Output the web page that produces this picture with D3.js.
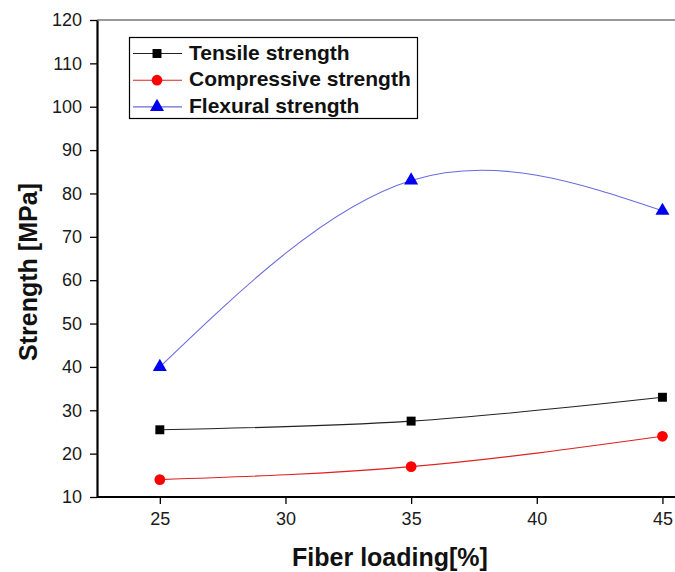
<!DOCTYPE html>
<html><head><meta charset="utf-8">
<script src="https://cdn.jsdelivr.net/npm/d3@7"></script>
<style>body{margin:0;background:#fff}svg{display:block}</style>
</head><body>
<svg id="c" width="675" height="572"></svg>
<script>
const fiberLoading = [25, 35, 45];
const tensile = [25.5, 27.5, 33.0];
const compressive = [14.0, 17.0, 24.0];
const flexural = [40.0, 83.0, 76.0];
const xTicks = [25, 30, 35, 40, 45];
const yTicks = [10, 20, 30, 40, 50, 60, 70, 80, 90, 100, 110, 120];
const seriesNames = ["Tensile strength", "Compressive strength", "Flexural strength"];

const svg = d3.select("#c");
const x = d3.scaleLinear().domain([22.5, 45.5]).range([97, 675]);
const y = d3.scaleLinear().domain([10, 120]).range([497, 20]);

const series = [
  {name: seriesNames[0], vals: tensile, line: "#222", fill: "#000", shape: d3.symbolSquare, size: 80},
  {name: seriesNames[1], vals: compressive, line: "#d22", fill: "#f00", shape: d3.symbolCircle, size: 90},
  {name: seriesNames[2], vals: flexural, line: "#6a6ae0", fill: "#0000ee", shape: d3.symbolTriangle, size: 85}
];

// top frame line
svg.append("line").attr("x1", x(22.5)).attr("x2", 675).attr("y1", y(120)).attr("y2", y(120))
  .attr("stroke", "#777").attr("stroke-width", 1.5);

// axes
const fontFam = "Arial, 'Liberation Sans', sans-serif";
const xAxis = svg.append("g").attr("transform", `translate(0,${y(10)})`)
  .call(d3.axisBottom(x).tickValues(xTicks).tickSize(7).tickPadding(8).tickSizeOuter(0));
const yAxis = svg.append("g").attr("transform", `translate(${x(22.5)},0)`)
  .call(d3.axisLeft(y).tickValues(yTicks).tickSize(7).tickPadding(8).tickSizeOuter(0));
[xAxis, yAxis].forEach(g => {
  g.select(".domain").attr("stroke", "#000").attr("stroke-width", 2.2);
  g.selectAll(".tick line").attr("stroke", "#000").attr("stroke-width", 1.3);
  g.selectAll(".tick text").attr("font-family", fontFam).attr("font-size", 18).attr("fill", "#1a1a1a");
});
xAxis.select(".domain").attr("d", `M${x(22.5)},0H675`);

// lines
const line = d3.line().x((d, i) => x(fiberLoading[i])).y(d => y(d)).curve(d3.curveNatural);
series.forEach(s => {
  svg.append("path").attr("d", line(s.vals)).attr("fill", "none")
    .attr("stroke", s.line).attr("stroke-width", 1.1);
});
series.forEach(s => {
  svg.append("g").selectAll("path").data(s.vals).join("path")
    .attr("d", d3.symbol().type(s.shape).size(s.size))
    .attr("transform", (d, i) => `translate(${x(fiberLoading[i])},${y(d)})`)
    .attr("fill", s.fill);
});

// legend
const lg = svg.append("g");
lg.append("rect").attr("x", 129.5).attr("y", 37.5).attr("width", 288).attr("height", 81)
  .attr("fill", "#fff").attr("stroke", "#000").attr("stroke-width", 1.2);
series.forEach((s, i) => {
  const yy = 53.5 + i * 26.7;
  lg.append("line").attr("x1", 133).attr("x2", 182).attr("y1", yy).attr("y2", yy)
    .attr("stroke", s.line).attr("stroke-width", 1.1);
  lg.append("path").attr("d", d3.symbol().type(s.shape).size(s.size)())
    .attr("transform", `translate(157,${yy})`).attr("fill", s.fill);
  lg.append("text").attr("x", 189).attr("y", yy + 6)
    .attr("font-family", fontFam).attr("font-weight", "bold").attr("font-size", 21)
    .attr("fill", "#111").text(s.name);
});

// titles
svg.append("text").attr("x", 390).attr("y", 566)
  .attr("text-anchor", "middle").attr("font-family", fontFam).attr("font-weight", "bold")
  .attr("font-size", 25).attr("fill", "#111").text("Fiber loading[%]");
svg.append("text").attr("transform", "translate(37,272) rotate(-90)")
  .attr("text-anchor", "middle").attr("font-family", fontFam).attr("font-weight", "bold")
  .attr("font-size", 25).attr("fill", "#111").text("Strength [MPa]");
</script>
</body></html>
